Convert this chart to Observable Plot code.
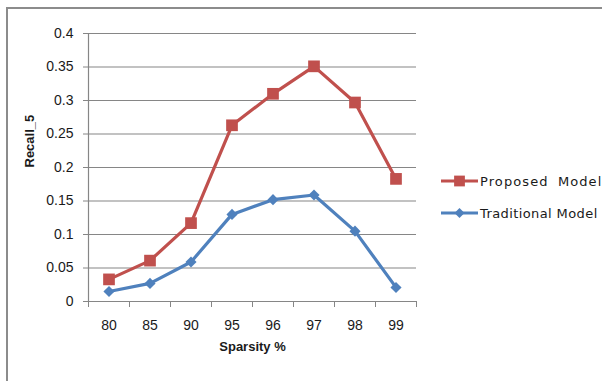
<!DOCTYPE html>
<html>
<head>
<meta charset="utf-8">
<script src="https://cdn.jsdelivr.net/npm/d3@7"></script>
<script src="https://cdn.jsdelivr.net/npm/@observablehq/plot@0.6"></script>
<style>
  html, body { margin: 0; padding: 0; background: #fff; overflow: hidden; }
  #wrap { position: relative; width: 602px; height: 381px; overflow: hidden; }
  #frame { position: absolute; left: 6px; top: 7px; width: 700px; height: 500px;
           border: 2px solid #8c8c8c; box-sizing: border-box; pointer-events: none; }
  #chart { position: absolute; left: 0; top: 0; }
</style>
</head>
<body>
<div id="wrap"><div id="chart"></div><div id="frame"></div></div>
<script>
// Sparsity levels (%) on the x axis
const sparsity = ["80", "85", "90", "95", "96", "97", "98", "99"];
// Recall@5 for each model
const proposed = [0.033, 0.061, 0.117, 0.263, 0.310, 0.351, 0.297, 0.183];
const traditional = [0.015, 0.027, 0.059, 0.130, 0.152, 0.159, 0.105, 0.021];
// y axis tick values
const yTicks = [0, 0.05, 0.1, 0.15, 0.2, 0.25, 0.3, 0.35, 0.4];

const series = [
  {name: "Proposed Model", values: proposed, color: "#C0504D", symbol: "square", r: 6.6,
   spacing: "1.1px", wordSpacing: "4px"},
  {name: "Traditional Model", values: traditional, color: "#4F81BD", symbol: "diamond2", r: 5.0,
   spacing: "0.4px", wordSpacing: "0px"}
];

const rows = series.flatMap(s => s.values.map((v, i) => ({series: s.name, i, pos: i + 0.5, value: v})));
const bounds = d3.range(sparsity.length + 1);
const centers = sparsity.map((_, i) => i + 0.5);
const axisColor = "#868686";
const font = "Liberation Sans, Arial, sans-serif";

const chart = Plot.plot({
  width: 602,
  height: 381,
  marginTop: 33,
  marginLeft: 88,
  marginRight: 186,
  marginBottom: 80,
  style: {fontFamily: font, fontSize: "14px", color: "#1a1a1a", background: "transparent"},
  x: {type: "linear", domain: [0, sparsity.length], axis: null},
  y: {domain: [0, 0.4], axis: null},
  marks: [
    Plot.ruleY(yTicks.slice(1), {stroke: axisColor, strokeWidth: 1.2}),
    Plot.axisY(yTicks, {tickSize: 5, tickPadding: 10, stroke: axisColor, strokeOpacity: 1,
      tickFormat: d => String(d), fontSize: 14, label: null}),
    Plot.axisX(bounds, {tickSize: 6, stroke: axisColor, strokeOpacity: 1, tickFormat: () => "", label: null}),
    Plot.axisX(centers, {tickSize: 0, tickPadding: 19, fontSize: 14,
      tickFormat: d => sparsity[Math.round(d - 0.5)], label: null}),
    Plot.ruleX([0], {stroke: axisColor, strokeWidth: 1.2}),
    Plot.ruleY([0], {stroke: axisColor, strokeWidth: 1.2}),
    ...series.map(s => Plot.line(rows.filter(d => d.series === s.name),
      {x: "pos", y: "value", stroke: s.color, strokeWidth: 3.2})),
    ...series.map(s => Plot.dot(rows.filter(d => d.series === s.name),
      {x: "pos", y: "value", symbol: () => s.symbol, fill: s.color, stroke: "none", r: s.r})),
    Plot.text(["Sparsity %"], {frameAnchor: "bottom", dy: 49, fontWeight: "bold", fontSize: 13}),
    Plot.text(["Recall_5"], {frameAnchor: "left", dx: -59, rotate: -90, fontWeight: "bold", fontSize: 13})
  ]
});

// Legend to the right of the plot area
const svg = d3.select(chart);
const legendY = [181, 213];
const sym = {square: d3.symbolSquare, diamond2: d3.symbolDiamond2};
series.forEach((s, k) => {
  const g = svg.append("g").attr("transform", `translate(0,${legendY[k]})`);
  g.append("line").attr("x1", 441).attr("x2", 478).attr("y1", 0).attr("y2", 0)
    .attr("stroke", s.color).attr("stroke-width", 3.2);
  g.append("path").attr("transform", "translate(459.5,0)")
    .attr("d", d3.symbol(sym[s.symbol], Math.PI * s.r * s.r * (k === 0 ? 0.85 : 0.8))())
    .attr("fill", s.color);
  g.append("text").attr("x", 480).attr("y", 0).attr("dy", "0.35em")
    .attr("text-anchor", "start")
    .attr("font-family", "DejaVu Sans, sans-serif").attr("font-size", 13)
    .attr("letter-spacing", s.spacing).attr("word-spacing", s.wordSpacing)
    .attr("fill", "#1a1a1a").text(s.name);
});

document.getElementById("chart").appendChild(chart);
</script>
</body>
</html>
